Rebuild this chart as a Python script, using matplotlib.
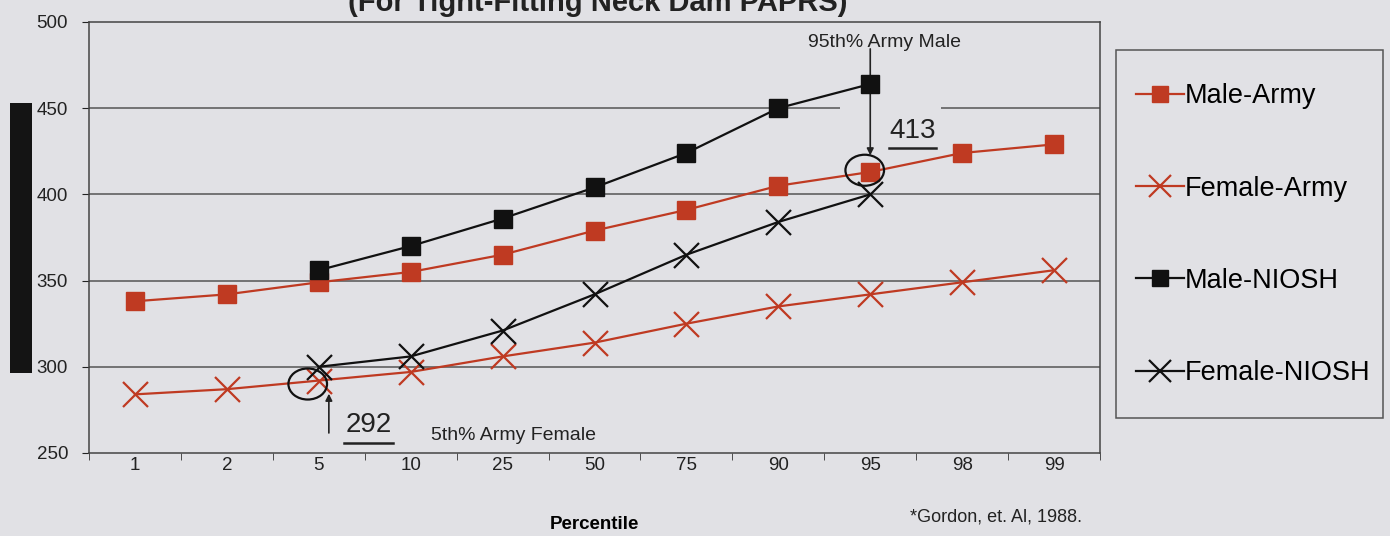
import matplotlib
matplotlib.use("Agg")
from matplotlib import pyplot as plt
from matplotlib.patches import Ellipse, Rectangle

plt.rcParams['font.family'] = ['Liberation Sans', 'DejaVu Sans']

percentiles = ["1", "2", "5", "10", "25", "50", "75", "90", "95", "98", "99"]
male_army = [338, 342, 349, 355, 365, 379, 391, 405, 413, 424, 429]
female_army = [284, 287, 292, 297, 306, 314, 325, 335, 342, 349, 356]
male_niosh = [356, 370, 386, 404, 424, 450, 464]
female_niosh = [300, 306, 321, 342, 365, 384, 400]
niosh_idx = [2, 3, 4, 5, 6, 7, 8]

bg = "#e1e1e5"
red = "#bf3a22"

fig = plt.figure(figsize=(13.9, 5.36), dpi=100, facecolor=bg)
ax = fig.add_axes([0.064, 0.1549, 0.7274, 0.8041], facecolor=bg)

x = list(range(len(percentiles)))
ax.plot(x, male_army, color=red, lw=1.6, marker='s', ms=13, mfc=red, mec=red, label="Male-Army", zorder=4)
ax.plot(x, female_army, color=red, lw=1.6, marker='x', ms=18, mew=1.6, label="Female-Army", zorder=4)
ax.plot(niosh_idx, male_niosh, color='#111111', lw=1.6, marker='s', ms=13, mfc='#111111', label="Male-NIOSH", zorder=4)
ax.plot(niosh_idx, female_niosh, color='#111111', lw=1.6, marker='x', ms=18, mew=1.6, label="Female-NIOSH", zorder=4)

# grid lines (gap at 450 behind label)
for g in [400, 350, 300]:
    ax.axhline(g, color='#555555', lw=1.1, zorder=1)
ax.hlines(450, -0.5, 7.67, color='#555555', lw=1.1, zorder=1)
ax.hlines(450, 8.77, 10.5, color='#555555', lw=1.1, zorder=1)

ax.set_xlim(-0.5, 10.5)
ax.set_ylim(250, 500)
ax.set_yticks([250, 300, 350, 400, 450, 500])
ax.set_xticks(x)
ax.set_xticklabels(percentiles)
ax.set_xticks([i + 0.5 for i in range(-1, 11)], minor=True)
ax.tick_params(axis='x', which='major', length=0, labelsize=13.5, pad=3, colors='#222222')
ax.tick_params(axis='x', which='minor', length=5, direction='out', color='#333333')
ax.tick_params(axis='y', length=5, labelsize=13.5, colors='#222222', pad=10)

for s in ['top', 'right', 'left', 'bottom']:
    ax.spines[s].set_color('#444444')
    ax.spines[s].set_linewidth(1.1)

ax.set_xlabel("Percentile", fontsize=13.5, fontweight='bold', labelpad=30)

# annotations
ax.text(8.46, 437, "413", fontsize=20, ha='center', va='center', color='#222222')
ax.plot([8.2, 8.72], [427, 427], color='#222222', lw=1.8)
ax.text(2.54, 266, "292", fontsize=20, ha='center', va='center', color='#222222')
ax.plot([2.28, 2.81], [256, 256], color='#222222', lw=1.8)
ax.text(3.22, 260, "5th% Army Female", fontsize=14, ha='left', va='center', color='#222222')
ax.text(7.32, 488, "95th% Army Male", fontsize=14, ha='left', va='center', color='#222222')

ax.annotate("", xy=(8.0, 421), xytext=(8.0, 486),
            arrowprops=dict(arrowstyle='-|>', color='#222222', lw=1.2, mutation_scale=10))
ax.annotate("", xy=(2.11, 286), xytext=(2.11, 260),
            arrowprops=dict(arrowstyle='-|>', color='#222222', lw=1.2, mutation_scale=10))
ax.add_patch(Ellipse((7.94, 414), 0.42, 18, fill=False, ec='#111111', lw=1.6, zorder=5))
ax.add_patch(Ellipse((1.88, 290), 0.42, 18, fill=False, ec='#111111', lw=1.6, zorder=5))

fig.text(0.655, 0.035, "*Gordon, et. Al, 1988.", fontsize=13, ha='left', va='center', color='#222222')

# cut-off title
fig.text(0.43, 0.995, "(For Tight-Fitting Neck Dam PAPRS)", fontsize=21, fontweight='bold',
         ha='center', va='center', color='#222222')

# black bar at left
fig.patches.append(Rectangle((0.0072, 0.304), 0.0158, 0.504, transform=fig.transFigure,
                             facecolor='#141414', edgecolor='none'))

# legend frame + legend
fig.patches.append(Rectangle((0.803, 0.22), 0.192, 0.687, transform=fig.transFigure,
                             facecolor='none', edgecolor='#555555', lw=1.1))
leg = fig.legend(loc='center left', bbox_to_anchor=(0.8, 0.562), frameon=False,
                 fontsize=19.5, labelspacing=2.45, handlelength=1.75, handletextpad=0.05,
                 markerscale=0.85)

fig.savefig("out.png", dpi=100, facecolor=bg)
